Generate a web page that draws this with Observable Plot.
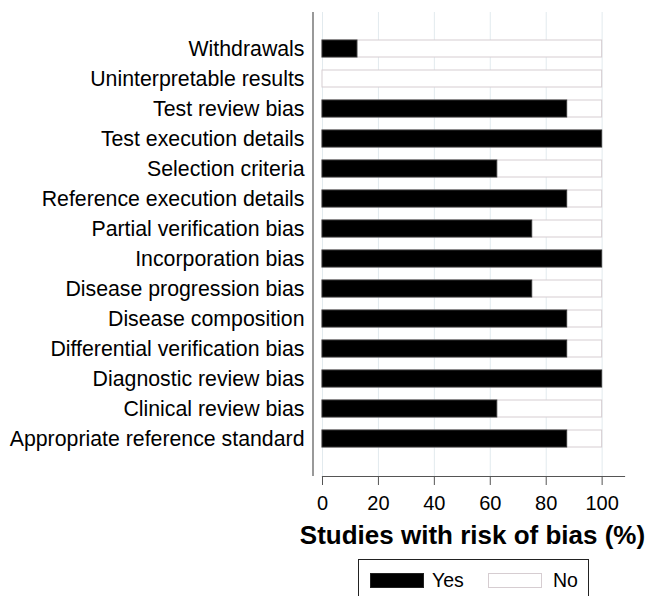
<!DOCTYPE html>
<html>
<head>
<meta charset="utf-8">
<script src="https://cdn.jsdelivr.net/npm/d3@7"></script>
<script src="https://cdn.jsdelivr.net/npm/@observablehq/plot@0.6"></script>
<style>
  html, body { margin: 0; padding: 0; background: #fff; }
  body { width: 652px; height: 596px; position: relative; overflow: hidden; font-family: "Liberation Sans", Arial, sans-serif; }
  #chart { position: absolute; left: 0; top: 0; }
  #legend { position: absolute; left: 358px; top: 559px; width: 231px; height: 50px; border: 1px solid #222; box-sizing: border-box; }
  .sw { position: absolute; top: 13px; width: 54px; height: 15px; box-sizing: border-box; }
  .lt { position: absolute; top: 9px; font-size: 19.5px; line-height: 22px; color: #000; }
</style>
</head>
<body>
<div id="chart"></div>
<div id="legend">
  <div class="sw" style="left:11px;background:#000;border:1px solid #222;"></div>
  <div class="lt" style="left:73px;">Yes</div>
  <div class="sw" style="left:129px;background:#fff;border:1px solid #d6cdd1;"></div>
  <div class="lt" style="left:194px;">No</div>
</div>
<script>
const categories = [
  "Withdrawals",
  "Uninterpretable results",
  "Test review bias",
  "Test execution details",
  "Selection criteria",
  "Reference execution details",
  "Partial verification bias",
  "Incorporation bias",
  "Disease progression bias",
  "Disease composition",
  "Differential verification bias",
  "Diagnostic review bias",
  "Clinical review bias",
  "Appropriate reference standard"
];
const yesValues = [12.5, 0, 87.5, 100, 62.5, 87.5, 75, 100, 75, 87.5, 87.5, 100, 62.5, 87.5];
const total = 100;
const xTicks = [0, 20, 40, 60, 80, 100];
const axisTitle = "Studies with risk of bias (%)";

const data = categories.map((c, i) => ({category: c, yes: yesValues[i], total}));

const chart = Plot.plot({
  width: 652,
  height: 560,
  marginLeft: 322,
  marginRight: 28,
  marginTop: 12,
  marginBottom: 84,
  style: {fontFamily: "'Liberation Sans', Arial, sans-serif", fontSize: "20px", color: "#000", background: "#fff", overflow: "visible"},
  x: {domain: [0, 108], axis: null},
  y: {domain: categories, paddingInner: 0.42, paddingOuter: 0.86, axis: null},
  marks: [
    Plot.ruleX(xTicks, {stroke: "#e2eaee", strokeWidth: 1}),
    Plot.ruleX([0], {dx: -9.5, stroke: "#555", strokeWidth: 1.2}),
    Plot.frame({anchor: "bottom", stroke: "#555", strokeWidth: 1.2}),
    Plot.barX(data, {y: "category", x1: 0, x2: "total", fill: "#fff", stroke: "#d6cdd1", strokeWidth: 1}),
    Plot.barX(data.filter(d => d.yes > 0), {y: "category", x1: 0, x2: "yes", fill: "#000", stroke: "#333", strokeWidth: 1}),
    Plot.axisX({ticks: xTicks, tickSize: 9, tickPadding: 10, fontSize: 20, stroke: "#555", label: null}),
    Plot.axisY({tickSize: 0, tickPadding: 18, fontSize: 21.3, label: null}),
    Plot.text([axisTitle], {frameAnchor: "bottom", lineAnchor: "bottom", dx: -1, dy: 67, fontSize: 26, fontWeight: "bold", fill: "#000"})
  ]
});
document.getElementById("chart").appendChild(chart);
</script>
</body>
</html>
